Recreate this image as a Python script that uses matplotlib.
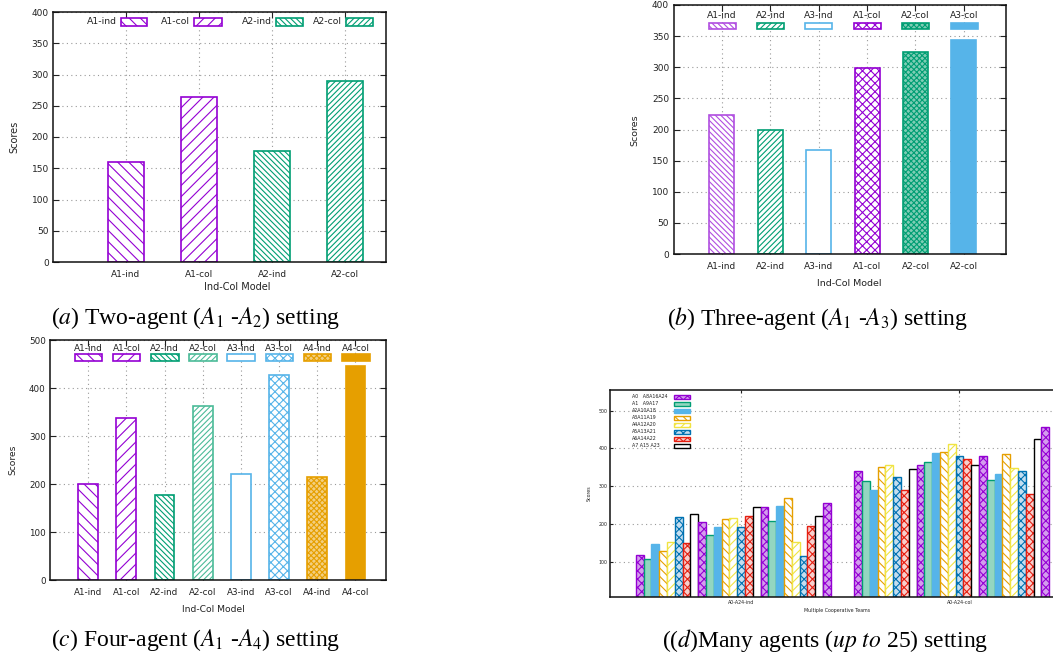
import matplotlib
matplotlib.use('Agg')
import matplotlib.pyplot as plt
from matplotlib.patches import Rectangle

W, H = 1053, 657
plt.rcParams['font.family'] = ['DejaVu Sans']
plt.rcParams['mathtext.fontset'] = 'stix'
plt.rcParams['hatch.linewidth'] = 0.8

# ---------------- data ----------------
a_labels = ['A1-ind', 'A1-col', 'A2-ind', 'A2-col']
a_values = [160, 264, 178, 289]

b_labels = ['A1-ind', 'A2-ind', 'A3-ind', 'A1-col', 'A2-col', 'A2-col']
b_keys = ['A1-ind', 'A2-ind', 'A3-ind', 'A1-col', 'A2-col', 'A3-col']
b_values = [223, 199, 167, 299, 324, 344]

c_labels = ['A1-ind', 'A1-col', 'A2-ind', 'A2-col', 'A3-ind', 'A3-col', 'A4-ind', 'A4-col']
c_values = [199, 337, 178, 363, 221, 428, 215, 446]

d_groups = ['A0-A24-ind', 'A0-A24-col']
d_ind = [117, 106, 147, 127, 151, 218, 149, 226,
         205, 170, 191, 213, 215, 191, 222, 246,
         244, 207, 248, 268, 152, 114, 194, 220,
         255]
d_col = [341, 313, 291, 350, 355, 324, 290, 345,
         357, 365, 389, 391, 413, 380, 371, 357,
         380, 317, 333, 386, 347, 341, 279, 425,
         457]
d_keys = ['A0   A8A16A24', 'A1   A9A17', 'A2A10A18', 'A3A11A19',
          'A4A12A20', 'A5A13A21', 'A6A14A22', 'A7 A15 A23']

# ---------------- colours / styles ----------------
PUR = '#9400D3'; GRN = '#009E73'; BLU = '#56B4E9'; ORA = '#E69F00'
YEL = '#F0E442'; DBL = '#0072B2'; RED = '#E51E10'; BLK = '#000000'


def st(ec, fc='white', hatch=None, lw=1.2):
    d = dict(facecolor=fc, edgecolor=ec, linewidth=lw)
    if hatch:
        d['hatch'] = hatch
    return d


a_styles = [st(PUR, hatch='\\' * 3), st(PUR, hatch='/' * 3),
            st(GRN, hatch='\\' * 6), st(GRN, hatch='/' * 6)]
b_styles = [st('#b04ee0', hatch='\\' * 6), st(GRN, hatch='/' * 6), st(BLU),
            st(PUR, hatch='xxxx'), st(GRN, fc='#7fcdb5', hatch='xxxxxx'), st(BLU, fc=BLU)]
c_styles = [st(PUR, hatch='\\' * 3), st(PUR, hatch='/' * 3),
            st(GRN, hatch='\\' * 6), st('#4cbb98', hatch='/' * 6),
            st(BLU), st(BLU, hatch='xxxx'),
            st(ORA, fc='#f3cf80', hatch='xxxxxx'), st(ORA, fc=ORA)]
d_styles = [st(PUR, fc='#d49cee', hatch='xxxx', lw=1.0),
            st(GRN, fc='#93d6c0', lw=1.0),
            st(BLU, fc=BLU, lw=1.0),
            st(ORA, hatch='\\' * 4, lw=1.0),
            st(YEL, hatch='/' * 4, lw=1.0),
            st(DBL, fc='#c4def0', hatch='xxxx', lw=1.0),
            st(RED, fc='#f8cfcc', hatch='xxxx', lw=1.0),
            st(BLK, lw=1.0)]

fig = plt.figure(figsize=(W / 100, H / 100), dpi=100)


def rect(l, t, r, b):
    return [l / W, 1 - b / H, (r - l) / W, (b - t) / H]


def fx(x):
    return x / W


def fy(y):
    return 1 - y / H


def swatch(x0, y0, x1, y1, sty):
    fig.add_artist(Rectangle((fx(x0), fy(y1)), (x1 - x0) / W, (y1 - y0) / H,
                             transform=fig.transFigure, **sty))


def style_axes(ax, fs, padx, pady, tl=4):
    ax.tick_params(direction='in', top=True, right=True, length=tl, width=0.8,
                   labelsize=fs, colors='#222222')
    ax.tick_params(axis='x', pad=padx)
    ax.tick_params(axis='y', pad=pady)
    for s in ax.spines.values():
        s.set_linewidth(1.1)
        s.set_color('#111111')
    ax.grid(True, linestyle=(0, (1, 3)), color='#999999', linewidth=0.8)
    ax.set_axisbelow(True)


def labels_at(ax, box, xl, yl, xlab_px, ylab_px, fs):
    l, t, r, b = box
    ax.set_xlabel(xl, fontsize=fs, va='center', color='#222222')
    ax.set_ylabel(yl, fontsize=fs, va='center', color='#222222')
    ax.xaxis.set_label_coords((xlab_px[0] - l) / (r - l), (b - xlab_px[1]) / (b - t))
    ax.yaxis.set_label_coords((ylab_px[0] - l) / (r - l), (b - ylab_px[1]) / (b - t))


# ---------------- panel (a) ----------------
boxa = (53, 12, 386, 262)
axa = fig.add_axes(rect(*boxa))
for i, (v, s) in enumerate(zip(a_values, a_styles)):
    axa.bar(i, v, 0.5, **s)
axa.set_xlim(-1.0, 3.56)
axa.set_ylim(0, 400)
axa.set_yticks(range(0, 401, 50))
axa.set_xticks(range(len(a_labels)))
axa.set_xticklabels(a_labels)
style_axes(axa, 6.5, 6, 3)
labels_at(axa, boxa, 'Ind-Col Model', 'Scores', (237, 287), (14, 137), 7)
for (x0, x1), lab, s in zip([(120.7, 146.7), (194, 222), (276, 303), (346, 373)],
                            a_labels, a_styles):
    swatch(x0, 17.7, x1, 25.7, s)
    fig.text(fx(x0 - 4), fy(21.7), lab, ha='right', va='center', fontsize=6.7,
             color='#222222')

# ---------------- panel (b) ----------------
boxb = (674, 5, 1006, 254)
axb = fig.add_axes(rect(*boxb))
for i, (v, s) in enumerate(zip(b_values, b_styles)):
    axb.bar(i, v, 0.52, **s)
axb.set_xlim(-0.99, 5.87)
axb.set_ylim(0, 400)
axb.set_yticks(range(0, 401, 50))
axb.set_xticks(range(len(b_labels)))
axb.set_xticklabels(b_labels)
style_axes(axb, 6.5, 6, 3.5)
labels_at(axb, boxb, 'Ind-Col Model', 'Scores', (849, 284), (635, 130), 6.8)
for i, (lab, s) in enumerate(zip(b_keys, b_styles)):
    cx = 722 + 48.4 * i
    swatch(cx - 13.5, 22.7, cx + 13.5, 29.3, s)
    fig.text(fx(cx), fy(15), lab, ha='center', va='center', fontsize=6.6,
             color='#222222')

# ---------------- panel (c) ----------------
boxc = (50, 340, 386, 580)
axc = fig.add_axes(rect(*boxc))
for i, (v, s) in enumerate(zip(c_values, c_styles)):
    axc.bar(i, v, 0.52, **s)
axc.set_xlim(-1.0, 7.8)
axc.set_ylim(0, 500)
axc.set_yticks(range(0, 501, 100))
axc.set_xticks(range(len(c_labels)))
axc.set_xticklabels(c_labels)
style_axes(axc, 6.3, 5.5, 3)
labels_at(axc, boxc, 'Ind-Col Model', 'Scores', (213, 609), (13, 460), 6.6)
for i, (lab, s) in enumerate(zip(c_labels, c_styles)):
    cx = 88.3 + 38.2 * i
    swatch(cx - 13.8, 354.3, cx + 13.8, 361, s)
    fig.text(fx(cx), fy(348.3), lab, ha='center', va='center', fontsize=6.4,
             color='#222222')

# ---------------- panel (d) ----------------
boxd = (610, 390, 1064, 597)
axd = fig.add_axes(rect(*boxd))
for g, vals in enumerate([d_ind, d_col]):
    for i, v in enumerate(vals):
        axd.bar(g * 28 + i, v, 1.0, **d_styles[i % 8])
axd.set_xlim(-3.8, 54.4)
axd.set_ylim(6, 555)
axd.set_yticks(range(100, 501, 100))
axd.set_xticks([13, 41])
axd.set_xticklabels(d_groups)
style_axes(axd, 3.4, 2, 1.5, tl=2.5)
labels_at(axd, boxd, 'Multiple Cooperative Teams', 'Scores', (837, 610.7), (589, 493), 3.4)
for k, (lab, s) in enumerate(zip(d_keys, d_styles)):
    cy = 396.7 + 7 * k
    swatch(674, cy - 1.8, 690, cy + 1.8, s)
    fig.text(fx(631.7), fy(cy), lab, ha='left', va='center', fontsize=3.4,
             color='#222222')

# ---------------- captions ----------------
cap = dict(ha='center', va='center', fontsize=17, family='Liberation Serif')
fig.text(fx(196), fy(318), r'($\mathit{a}$) Two-agent ($A_1$ -$A_2$) setting', **cap)
fig.text(fx(818), fy(318), r'($\mathit{b}$) Three-agent ($A_1$ -$A_3$) setting', **cap)
fig.text(fx(196), fy(640), r'($\mathit{c}$) Four-agent ($A_1$ -$A_4$) setting', **cap)
fig.text(fx(825), fy(640), r'(($\mathit{d}$)Many agents ($\mathit{up\ to}$ 25) setting', **cap)

fig.savefig('out.png', dpi=100)
